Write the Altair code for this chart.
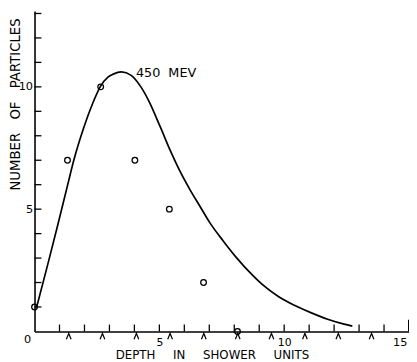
import altair as alt
import pandas as pd

# fitted curve
curve_x = [0.08, 0.52, 0.92, 1.31, 1.57, 1.97, 2.36, 2.63, 2.95, 3.15, 3.48, 3.87, 4.26, 4.59,
           5.05, 5.44, 5.84, 6.23, 6.63, 7.02, 7.55, 8.07, 8.73, 9.12, 9.78, 10.43, 11.09,
           11.74, 12.40, 12.73]
curve_y = [0.98, 2.70, 4.31, 5.92, 6.99, 8.33, 9.40, 10.0, 10.41, 10.52, 10.61, 10.47, 10.0, 9.40,
           8.33, 7.39, 6.52, 5.79, 5.11, 4.45, 3.71, 3.04, 2.30, 1.92, 1.42, 1.06, 0.76,
           0.50, 0.30, 0.22]

# observed points
obs_x = [0.0, 1.32, 2.65, 4.02, 5.4, 6.77, 8.13]
obs_y = [1, 7, 10, 7, 5, 2, 0]

# caret marks below the depth axis
caret_x = [1.37, 2.72, 4.08, 5.43, 6.78, 8.14, 9.49, 10.83, 12.17, 13.5]

# tick positions
x_ticks = [1, 2, 3, 4, 5, 6, 7, 8, 9, 10, 11, 12, 13, 14]
x_end_tick = [15]
y_ticks = [1, 2, 3, 4, 5, 6, 7, 8, 9, 10, 11, 12, 13]
x_labels = [5, 10]
y_labels = [5, 10]

ann_x = [4.06]
ann_y = [10.55]
ann_text = ["450\u00a0\u00a0MEV"]

X_TITLE = "DEPTH\u2003\u2002IN\u2003\u2002SHOWER\u2003\u2002UNITS"
Y_TITLE = "NUMBER\u2003OF\u2003PARTICLES"

FONT = "DejaVu Sans"

xs = alt.Scale(domain=[0, 15], nice=False, zero=False)
ys = alt.Scale(domain=[0, 13.1], nice=False, zero=False)

x_axis = alt.Axis(
    values=x_labels, ticks=False, grid=False, domainColor="black", domainWidth=1.6,
    labelPadding=5, labelFontSize=11, labelFont=FONT, labelColor="black", labelFlush=False,
    title=X_TITLE, titleFont=FONT, titleFontSize=12,
    titleFontWeight="normal", titleColor="black", titleX=180.5, titleY=19,
    titleBaseline="top", titleAlign="center")
y_axis = alt.Axis(
    values=y_labels, ticks=False, grid=False, domainColor="black", domainWidth=1.6,
    labelPadding=2, labelFontSize=11.5, labelFont=FONT, labelColor="black", labelFlush=False,
    title=Y_TITLE, titleFont=FONT, titleFontSize=13.5,
    titleFontWeight="normal", titleColor="black", titleX=-19, titleY=7,
    titleAngle=270, titleAlign="right", titleBaseline="middle")


def X(field=None, datum=None):
    if datum is not None:
        return alt.X(datum=datum, type="quantitative", scale=xs, axis=x_axis)
    return alt.X(field, type="quantitative", scale=xs, axis=x_axis)


def Y(field=None, datum=None):
    if datum is not None:
        return alt.Y(datum=datum, type="quantitative", scale=ys, axis=y_axis)
    return alt.Y(field, type="quantitative", scale=ys, axis=y_axis)


curve_df = pd.DataFrame({"x": curve_x, "y": curve_y})
obs_df = pd.DataFrame({"x": obs_x, "y": obs_y})
caret_df = pd.DataFrame({"x": caret_x})
xt_df = pd.DataFrame({"x": x_ticks})
xe_df = pd.DataFrame({"x": x_end_tick})
yt_df = pd.DataFrame({"y": y_ticks})
ann_df = pd.DataFrame({"x": ann_x, "y": ann_y, "t": ann_text})

curve = alt.Chart(curve_df).mark_line(interpolate="monotone", color="black", strokeWidth=1.7).encode(
    x=X("x"), y=Y("y"))

points = alt.Chart(obs_df).mark_point(shape="circle", filled=False, size=33, strokeWidth=1.3,
                                      color="black", opacity=1).encode(x=X("x"), y=Y("y"))

carets = alt.Chart(caret_df).mark_point(shape="M -0.8 1 L 0 -1 L 0.8 1", filled=False, size=36,
                                        strokeWidth=1.2, color="black", opacity=1, yOffset=5).encode(
    x=X("x"), y=Y(datum=0))

xticks = alt.Chart(xt_df).mark_tick(orient="vertical", size=7, thickness=1.3, color="black",
                                    opacity=1, yOffset=-3.5).encode(x=X("x"), y=Y(datum=0))

xend = alt.Chart(xe_df).mark_tick(orient="vertical", size=12, thickness=2, color="black",
                                  opacity=1, yOffset=-6).encode(x=X("x"), y=Y(datum=0))

yticks = alt.Chart(yt_df).mark_tick(orient="horizontal", size=7, thickness=1.3, color="black",
                                    opacity=1, xOffset=3.5).encode(x=X(datum=0), y=Y("y"))

ann = alt.Chart(ann_df).mark_text(align="left", baseline="middle", fontSize=13, font=FONT,
                                  color="black").encode(x=X("x"), y=Y("y"), text="t:N")

zero_lbl = alt.Chart(pd.DataFrame({"x": [0], "y": [0], "t": ["0"]})).mark_text(
    align="center", baseline="middle", fontSize=11.5, font=FONT, color="black", dx=-7, dy=9).encode(
    x=X("x"), y=Y("y"), text="t:N")

end_lbl = alt.Chart(pd.DataFrame({"x": [15], "y": [0], "t": ["15"]})).mark_text(
    align="center", baseline="middle", fontSize=11.5, font=FONT, color="black", dx=-9, dy=12).encode(
    x=X("x"), y=Y("y"), text="t:N")

chart = alt.layer(curve, points, carets, xticks, xend, yticks, ann, zero_lbl, end_lbl).properties(
    width=381, height=326,
    padding={"left": 27, "top": 0, "right": 0, "bottom": 28},
    autosize=alt.AutoSizeParams(type="none"),
    background="white",
).configure_view(stroke=None)

chart.save("out.html", embed_options={"renderer": "svg", "actions": False})
